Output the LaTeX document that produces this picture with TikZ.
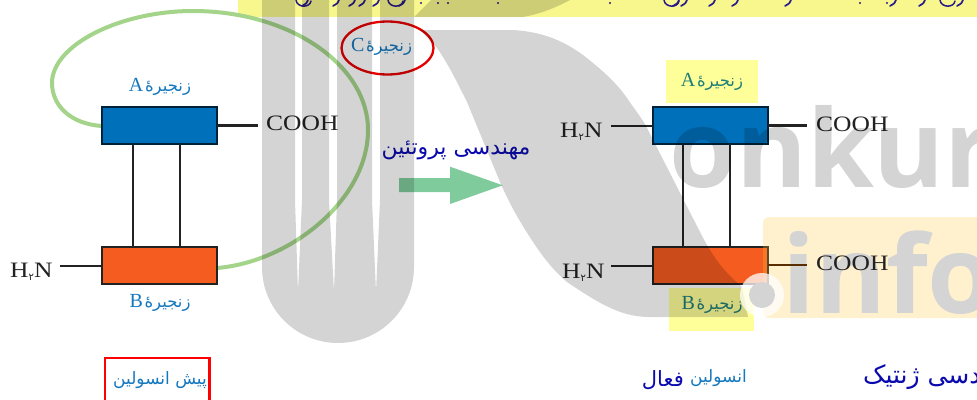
\documentclass[tikz,border=0pt]{standalone}
\usepackage{fontspec}
\usetikzlibrary{shapes.geometric}
\TeXXeTstate=1
\newfontfamily\arabicfont[Script=Arabic]{DejaVu Sans}
\newfontfamily\wmfont{Open Sans}
\newfontfamily\chemfont[FakeStretch=1.16]{Liberation Serif}
\newfontfamily\latinlab{Liberation Serif}
\definecolor{chainblue}{HTML}{0070BB}
\definecolor{chainorange}{HTML}{F55C20}
\definecolor{labelblue}{HTML}{1478BE}
\definecolor{deepblue}{HTML}{0A0AAE}
\definecolor{inkdark}{HTML}{222222}
\definecolor{hilite}{HTML}{FFFF99}
\definecolor{bandyellow}{HTML}{F7F78E}
\definecolor{tealtext}{HTML}{1F7F78}
\definecolor{loopgreen}{HTML}{A3D48A}
\definecolor{arrowgreen}{HTML}{80CB9C}
\definecolor{peach}{HTML}{FFC83C}
\definecolor{bandink}{HTML}{2A1A8A}
\newcommand{\zanjire}[1]{{\latinlab\fontsize{20}{20}\selectfont #1}\,{\arabicfont\fontsize{16.5}{18}\selectfont\beginR زنجیرهٔ\endR}}
\newcommand{\htwon}{H{\raisebox{-3pt}{\arabicfont\fontsize{10}{10}\selectfont ۲}}N}
\tikzset{
  chainA/.style={draw=black!70!chainblue,line width=1.2pt,fill=chainblue,minimum width=115pt,minimum height=37pt,inner sep=0pt},
  chainB/.style={draw=inkdark,line width=1.2pt,fill=chainorange,minimum width=115pt,minimum height=37pt,inner sep=0pt},
  bond/.style={draw=inkdark,line width=2.2pt},
  chem/.style={inner sep=0pt,text=inkdark,font=\chemfont\fontsize{22}{22}\selectfont},
  lab/.style={inner sep=0pt,text=labelblue},
  hilab/.style={inner sep=0pt,text=tealtext},
  persian/.style={inner sep=0pt,font=\arabicfont\fontsize{22}{24}\selectfont},
  small/.style={inner sep=0pt,font=\arabicfont\fontsize{17}{19}\selectfont},
  wm/.style={inner sep=0pt,anchor=base west,font=\wmfont\bfseries\fontsize{108}{108}\selectfont}
}
\begin{document}
\begin{tikzpicture}[x=1pt,y=-1pt]
\useasboundingbox (0,0) rectangle (977,399);
\clip (0,0) rectangle (977,399);
\fill[white] (0,0) rectangle (977,399);
% top band
\fill[bandyellow] (238,0) rectangle (977,17);
\foreach \x in {305,336,352,362,376,402,676,684,712,735,788,893,922,960} {
  \draw[draw=bandink,line width=1.7pt,line cap=round] (\x+3,0) .. controls (\x+2,3) .. (\x-3,6);
}
\foreach \x in {421,438,448,498,610,860,887} {
  \fill[bandink] (\x,3) circle[radius=1.1];
}
\foreach \x in {296,388,664,940} {
  \draw[draw=bandink,line width=1.5pt,line cap=round] (\x,0) .. controls (\x+1,8) and (\x+14,8) .. (\x+15,1);
}
% precursor
\coordinate (g0) at (102,126);
\coordinate (g1) at (217,268);
\draw[loopgreen,line width=4pt] (g0) .. controls (70,124) and (52,105) .. (52,83) .. controls (52,45) and (120,11) .. (193,11) .. controls (290,11) and (368,65) .. (368,130) .. controls (368,200) and (290,262) .. (g1);
\node[chainA] (preA) at (159.5,125.5) {};
\node[chainB] (preB) at (159.5,265.5) {};
\draw[bond] (133,144) -- (133,247);
\draw[bond] (180,144) -- (180,247);
\node[chem,anchor=west] (preCOOH) at (266,123.5) {COOH};
\coordinate (preCt) at (258,125.5);
\draw[bond] (217,125.5) -- (preCt);
\node[chem,anchor=west] (preH) at (10,272) {\htwon};
\coordinate (preHt) at (60,265.7);
\draw[bond] (preHt) -- (102,265.7);
\node[lab] (lA) at (160,87) {\zanjire{A}};
\node[lab] (lB) at (160,303) {\zanjire{B}};
\node[draw=red!90!black,line width=2.3pt,ellipse,minimum width=92pt,minimum height=53pt,inner sep=0pt] (ringC) at (387.5,48) {};
\node[lab] (lC) at (381.5,47) {\zanjire{C}};
\draw[red,line width=2.3pt] (105,403) -- (105,358) -- (209.5,358) -- (209.5,403);
\node[lab,font=\arabicfont\fontsize{17}{19}\selectfont] (lPre) at (160,380) {\beginR پیش انسولین\endR};
% arrow
\fill[arrowgreen] (399,178) -- (450,178) -- (450,166.7) -- (502.7,185.3) -- (450,204) -- (450,192) -- (399,192) -- cycle;
\node[persian,text=deepblue] (lProt) at (456,150) {\beginR مهندسی پروتئین\endR};
% active insulin
\fill[hilite] (666,60) rectangle (758,103);
\fill[hilite] (669,288) rectangle (754,331);
\node[hilab] (rlA) at (712,82) {\zanjire{A}};
\node[hilab] (rlB) at (712,305) {\zanjire{B}};
\node[chainA] (actA) at (710.5,125.5) {};
\node[chainB] (actB) at (710.5,265.5) {};
\draw[bond] (683,144) -- (683,247);
\draw[bond] (730,144) -- (730,247);
\node[chem,anchor=west] (actCOOHa) at (816,124) {COOH};
\coordinate (actCt) at (807,125.5);
\draw[bond] (768,125.5) -- (actCt);
\node[chem,anchor=west] (actHa) at (560,132) {\htwon};
\coordinate (actHat) at (611,125.7);
\draw[bond] (actHat) -- (653,125.7);
\node[chem,anchor=west] (actHb) at (562,272.5) {\htwon};
\coordinate (actHbt) at (611,265.7);
\draw[bond] (actHbt) -- (653,265.7);
\node[small,text=labelblue,anchor=east] (lActA) at (747,378) {\beginR انسولین\endR};
\node[small,text=deepblue,anchor=east,font=\arabicfont\fontsize{21}{23}\selectfont] (lActB) at (684,380) {\beginR فعال\endR};
\node[persian,text=deepblue,anchor=west,font=\arabicfont\fontsize{25}{27}\selectfont] (lGen) at (863,377) {\beginR مهندسی ژنتیک\endR};
% watermark overlays
\fill[peach,opacity=.25,rounded corners=6pt] (763,217) rectangle (990,318);
\begin{scope}[transparency group,opacity=.17]
\fill[black] (262,0) -- (262,267) .. controls (262,309) and (296,343) .. (338,343) .. controls (380,343) and (414,309) .. (414,267) -- (414,0) -- (380,0) -- (380,200) -- (376,292) -- (372,200) -- (372,0) -- (337,0) -- (337,200) -- (334,292) -- (329,200) -- (329,0) -- (302,0) -- (302,200) -- (298,292) -- (295,200) -- (295,0) -- cycle;
\fill[black] (414,17) -- (431,0) -- (570,0) .. controls (555,8) and (540,14) .. (523,17) -- cycle;
\fill[black] (420,30) -- (513,30) .. controls (545,32) and (565,42) .. (583,55) .. controls (605,72) and (618,85) .. (627,98) .. controls (635,110) and (642,118) .. (647,128) -- (700,232) .. controls (715,262) and (728,275) .. (742,287) -- (748,317) -- (650,317) .. controls (625,317) and (605,308) .. (567,282) .. controls (555,272) and (545,260) .. (533,242) .. controls (520,222) and (510,205) .. (500,182) -- (467,102) .. controls (455,78) and (447,62) .. (437,48) -- cycle;
\node[wm,text=black] (wmA) at (669,187) {onkur};
\end{scope}
\fill[white,opacity=.75] (762,295) circle[radius=22];
\fill[black!17] (762,295) circle[radius=13];
\node[wm,text=black!17] (wmB) at (782,313) {info};
\node[chem,anchor=west] (actCOOHb) at (816,263.5) {COOH};
\coordinate (actCtb) at (807,265);
\draw[bond,draw=black!65!orange] (768,265) -- (actCtb);
\end{tikzpicture}
\end{document}
